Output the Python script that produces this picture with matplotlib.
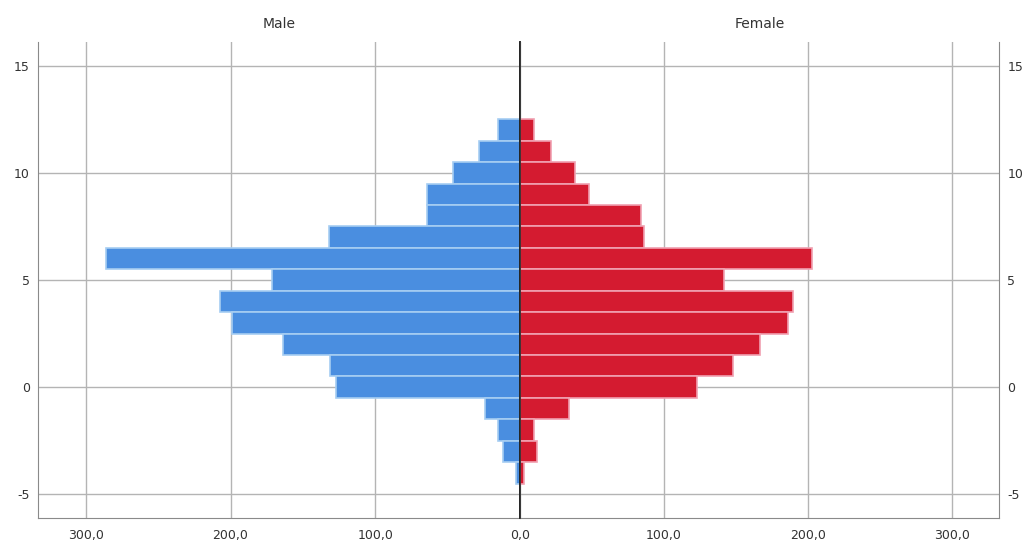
import numpy as np
import matplotlib.pyplot as plt
from matplotlib import rcParams
from matplotlib.ticker import FuncFormatter

rcParams['font.family'] = 'DejaVu Sans'
rcParams['font.size'] = 9
rcParams['axes.unicode_minus'] = False

# bin centres (y) and counts per sex
bins = [12, 11, 10, 9, 8, 7, 6, 5, 4, 3, 2, 1, 0, -1, -2, -3, -4]
male = [15, 28, 46, 64, 64, 132, 286, 171, 207, 199, 164, 131, 127, 24, 15, 12, 3]
female = [10, 21.5, 38, 48, 84, 86, 203, 142, 190, 186, 167, 148, 123, 34, 10, 11.5, 3]
xticks = [0, 100, 200, 300]

fig = plt.figure(figsize=(10.26, 5.41), dpi=100)
x0, xm, x1 = 38/1026, 520/1026, 999/1026
y0, y1 = 1 - 518/541, 1 - 42/541
axl = fig.add_axes([x0, y0, xm - x0, y1 - y0])
axr = fig.add_axes([xm, y0, x1 - xm, y1 - y0])

fmt = FuncFormatter(lambda v, p: ("%.1f" % v).replace(".", ","))
# right panel: 0,0 is already written by the left panel
fmt_r = FuncFormatter(lambda v, p: "" if v == 0 else ("%.1f" % v).replace(".", ","))
gcol = '#b4b4b4'

axl.barh(bins, male, height=1.0, color='#4a8ee0', edgecolor='#a6cdf2', lw=1.2, zorder=3)
axr.barh(bins, female, height=1.0, color='#d41b30', edgecolor='#f0a0b0', lw=1.2, zorder=3)

for ax in (axl, axr):
    ax.set_xlim(0, 333)
    ax.set_ylim(-6.1, 16.1)
    ax.set_xticks(xticks)
    ax.set_yticks([-5, 0, 5, 10, 15])
    ax.grid(True, color=gcol, lw=1, zorder=0)
    ax.spines['top'].set_visible(False)
    ax.spines['bottom'].set_color('#8a8a8a')
    ax.tick_params(length=0, colors='#333333', labelsize=9, pad=8)
    ax.set_facecolor('white')

axl.xaxis.set_major_formatter(fmt)
axr.xaxis.set_major_formatter(fmt_r)

axl.invert_xaxis()
axl.spines['right'].set_color('#222222')
axl.spines['right'].set_linewidth(1.2)
axl.spines['right'].set_zorder(5)
axl.spines['left'].set_color('#8a8a8a')
axr.spines['left'].set_color('#222222')
axr.spines['left'].set_linewidth(1.2)
axr.spines['left'].set_zorder(5)
axr.spines['right'].set_color('#8a8a8a')
axr.yaxis.tick_right()
axl.tick_params(axis='y', pad=6)
axr.tick_params(axis='y', pad=6)

axl.set_title("Male", fontsize=10, color='#333333', pad=10)
axr.set_title("Female", fontsize=10, color='#333333', pad=10)

plt.savefig("out.png", dpi=100)
